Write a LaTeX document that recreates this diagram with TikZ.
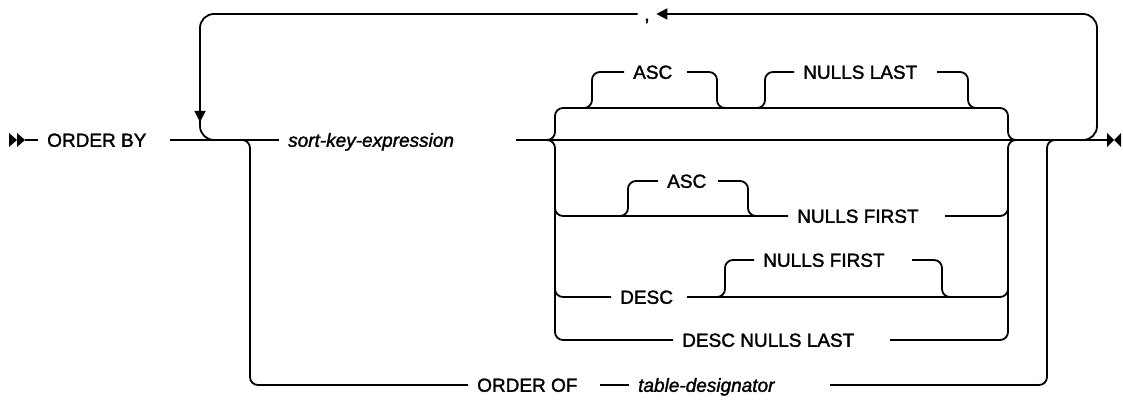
\documentclass[tikz,border=0pt]{standalone}
\usepackage{fontspec}
\setmainfont{Liberation Sans}[FakeBold=1.6]
\usetikzlibrary{arrows.meta}

\begin{document}
\begin{tikzpicture}[x=1pt, y=-1pt,
    track/.style={line width=1.8pt, rounded corners=8pt},
    bigloop/.style={line width=1.8pt, rounded corners=14pt},
    tip/.style={-{Triangle[length=11pt, width=11pt]}},
    kw/.style={font=\fontsize{19}{22}\selectfont, inner xsep=9pt, inner ysep=0pt,
               text height=13.6pt, text depth=0pt, anchor=west},
    var/.style={kw, font=\itshape\fontsize{19}{22}\selectfont},
  ]

  % ---------------- geometry -------------------------------------------------
  \def\M{140}     % main line
  \def\L{555}     % left rail of the option group
  \def\R{1008}    % right rail of the option group
  \useasboundingbox (0,0) rectangle (1123,403);

  % ---------------- start and end markers ------------------------------------
  \fill (9,133) -- (17,\M) -- (9,147) -- cycle;
  \fill (17,133) -- (25,\M) -- (17,147) -- cycle;
  \coordinate (st) at (25,\M);
  \coordinate (fin) at (1107,\M);
  \fill (1107,133) -- (1114,\M) -- (1107,147) -- cycle;
  \fill (1121,133) -- (1114,\M) -- (1121,147) -- cycle;

  % ---------------- main line ------------------------------------------------
  \node[kw]  (ob) at (38,\M)  {ORDER BY};
  \node[var] (sk) at (279,\M) {sort-key-expression};
  \coordinate (ob-r) at (170,\M);
  \coordinate (sk-r) at (516,\M);
  \draw[track] (st) -- (ob.west);
  \draw[track] (ob-r) -- (sk.west);
  \draw[track] (sk-r) -- (fin);

  % ---------------- repeat loop with the comma -------------------------------
  \node[kw, anchor=center, inner xsep=6.5pt] (comma) at (647,14) {,};
  \draw[bigloop, tip] (1075,\M) -- (1097,\M) -- (1097,14) -- (comma.east);
  \draw[bigloop, tip] (comma.west) -- (200,14) -- (200,122);
  \draw[bigloop] (200,116) -- (200,\M) -- (222,\M);

  % ---------------- ORDER OF table-designator --------------------------------
  \node[kw]  (oo) at (468,385) {ORDER OF};
  \node[var] (td) at (629,385) {table-designator};
  \coordinate (oo-r) at (600,385);
  \coordinate (td-r) at (830,385);
  \draw[track] (240,\M) -- (250,\M) -- (250,385) -- (oo.west);
  \draw[track] (oo-r) -- (td.west);
  \draw[track] (td-r) -- (1047,385) -- (1047,\M) -- (1060,\M);

  % ---------------- option group: rails --------------------------------------
  \draw[track] (540,\M) -- (\L,\M) -- (\L,108) -- (\R,108) -- (\R,\M) -- (1022,\M);
  \node[kw] (dnl) at (673,340) {DESC NULLS LAST};
  \coordinate (dnl-r) at (890,340);
  \draw[track] (540,\M) -- (\L,\M) -- (\L,340) -- (dnl.west);
  \draw[track] (dnl-r) -- (\R,340) -- (\R,\M) -- (1022,\M);

  % ASC NULLS LAST (top row)
  \node[kw] (asc1) at (624,72) {ASC};
  \node[kw] (nl1)  at (794,72) {NULLS LAST};
  \coordinate (asc1-r) at (687,72);
  \coordinate (nl1-r)  at (937,72);
  \draw[track] (582,108) -- (592,108) -- (592,72) -- (asc1.west);
  \draw[track] (asc1-r) -- (717,72) -- (717,108) -- (727,108);
  \draw[track] (755,108) -- (765,108) -- (765,72) -- (nl1.west);
  \draw[track] (nl1-r) -- (968,72) -- (968,108) -- (978,108);

  % [ASC] NULLS FIRST
  \node[kw] (asc2) at (658,181) {ASC};
  \node[kw] (nf1)  at (788,216) {NULLS FIRST};
  \coordinate (asc2-r) at (718,181);
  \coordinate (nf1-r)  at (945,216);
  \draw[track] (\L,200) -- (\L,216) -- (nf1.west);
  \draw[track] (nf1-r) -- (\R,216) -- (\R,200);
  \draw[track] (618,216) -- (628,216) -- (628,181) -- (asc2.west);
  \draw[track] (asc2-r) -- (748,181) -- (748,216) -- (758,216);

  % DESC [NULLS FIRST]
  \node[kw] (desc) at (611,297) {DESC};
  \node[kw] (nf2)  at (754,260) {NULLS FIRST};
  \coordinate (desc-r) at (687,297);
  \coordinate (nf2-r)  at (912,260);
  \draw[track] (\L,280) -- (\L,297) -- (desc.west);
  \draw[track] (desc-r) -- (\R,297) -- (\R,280);
  \draw[track] (715,297) -- (725,297) -- (725,260) -- (nf2.west);
  \draw[track] (nf2-r) -- (942,260) -- (942,297) -- (952,297);

\end{tikzpicture}
\end{document}
